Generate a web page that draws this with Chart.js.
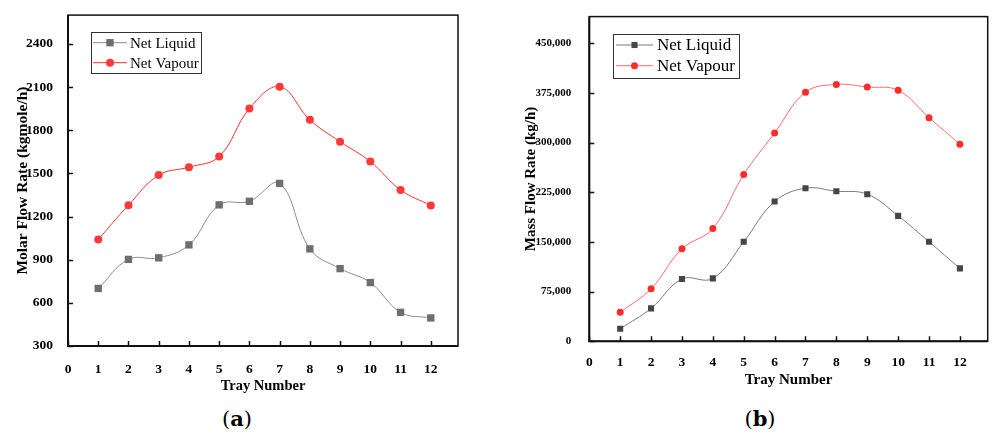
<!DOCTYPE html>
<html>
<head>
<meta charset="utf-8">
<script src="https://cdn.jsdelivr.net/npm/chart.js@4.4.0/dist/chart.umd.min.js"></script>
<style>
html, body { margin:0; padding:0; background:#fff; }
body { width:992px; height:434px; position:relative; overflow:hidden; }
.box { position:absolute; top:0; height:400px; }
#boxA { left:0; width:470px; }
#boxB { left:496px; width:496px; }
.cap { position:absolute; top:405px; width:100px; text-align:center; line-height:28px;
       font-family:"DejaVu Serif", serif; font-size:21px; color:#000; }
.cap b { font-weight:bold; }
</style>
</head>
<body>
<div class="box" id="boxA"><canvas id="chartA" width="470" height="400"></canvas></div>
<div class="box" id="boxB"><canvas id="chartB" width="496" height="400"></canvas></div>
<div class="cap" style="left:187px">(<b>a</b>)</div>
<div class="cap" style="left:710px">(<b>b</b>)</div>

<script>
// data
const trays = [1, 2, 3, 4, 5, 6, 7, 8, 9, 10, 11, 12];
const molarLiquid = [700, 902, 913, 1003, 1281, 1306, 1430, 975, 838, 741, 534, 495];
const molarVapour = [1040, 1279, 1488, 1543, 1617, 1950, 2102, 1872, 1720, 1582, 1385, 1277];
const massLiquid = [19000, 49700, 93900, 94900, 150200, 210900, 231000, 226500, 222000, 189300, 150200, 110000];
const massVapour = [43700, 79300, 139600, 170200, 251600, 314400, 375700, 387700, 383700, 378700, 337500, 297300];
const trayTicks = [0, 1, 2, 3, 4, 5, 6, 7, 8, 9, 10, 11, 12];
const molarTicks = [300, 600, 900, 1200, 1500, 1800, 2100, 2400];
const massTicks = [0, 75000, 150000, 225000, 300000, 375000, 450000];

const SERIF = "'Liberation Serif', 'Times New Roman', serif";
const pts = arr => trays.map((t, i) => ({ x: t, y: arr[i] }));

// box round the plot + short ticks pointing inwards
const framePlugin = {
  id: "frame",
  afterDraw(chart, args, o) {
    const { ctx, chartArea: a, scales } = chart;
    ctx.save();
    ctx.strokeStyle = "#111";
    ctx.lineWidth = 1.5;
    ctx.strokeRect(a.left, a.top, a.right - a.left, a.bottom - a.top);
    ctx.lineWidth = 2;
    ctx.beginPath();
    ctx.moveTo(a.left, a.top); ctx.lineTo(a.left, a.bottom); ctx.lineTo(a.right, a.bottom);
    ctx.stroke();
    ctx.lineWidth = 1.5;
    ctx.beginPath();
    scales.y.ticks.forEach(t => {
      const p = Math.round(scales.y.getPixelForValue(t.value)) + 0.5;
      ctx.moveTo(a.left, p); ctx.lineTo(a.left + 5, p);
    });
    scales.x.ticks.forEach(t => {
      const p = Math.round(scales.x.getPixelForValue(t.value)) + 0.5;
      ctx.moveTo(p, a.bottom); ctx.lineTo(p, a.bottom - 5);
    });
    ctx.stroke();
    ctx.restore();
  }
};

// legend with line + marker, in a framed box
const legendPlugin = {
  id: "boxLegend",
  afterDraw(chart, args, o) {
    const ctx = chart.ctx;
    ctx.save();
    ctx.fillStyle = "#fff";
    ctx.fillRect(o.x, o.y, o.w, o.h);
    ctx.strokeStyle = "#333";
    ctx.lineWidth = 1;
    ctx.strokeRect(o.x + 0.5, o.y + 0.5, o.w, o.h);
    ctx.font = o.font;
    ctx.textBaseline = "middle";
    chart.data.datasets.forEach((ds, i) => {
      const cy = o.y + o.first + i * o.row;
      ctx.strokeStyle = ds.borderColor;
      ctx.lineWidth = ds.borderWidth;
      ctx.beginPath();
      ctx.moveTo(o.x + o.lx0, cy); ctx.lineTo(o.x + o.lx1, cy);
      ctx.stroke();
      const mx = o.x + (o.lx0 + o.lx1) / 2;
      ctx.fillStyle = ds.pointBackgroundColor;
      if (ds.pointStyle === "rect") {
        const s = ds.pointRadius * Math.SQRT1_2;
        ctx.fillRect(mx - s, cy - s, 2 * s, 2 * s);
      } else {
        ctx.beginPath(); ctx.arc(mx, cy, ds.pointRadius, 0, Math.PI * 2); ctx.fill();
      }
      ctx.fillStyle = "#000";
      ctx.fillText(ds.label, o.x + o.tx, cy + 1);
    });
    ctx.restore();
  }
};

function makeChart(id, cfg) {
  return new Chart(document.getElementById(id), {
    type: "line",
    data: {
      datasets: [
        { label: "Net Liquid", data: pts(cfg.liquid), borderColor: cfg.liqLine, borderWidth: 1,
          pointStyle: "rect", pointRadius: cfg.sqR, pointBackgroundColor: cfg.liqPt,
          pointBorderWidth: 0, tension: 0.4 },
        { label: "Net Vapour", data: pts(cfg.vapour), borderColor: cfg.vapLine, borderWidth: 1,
          pointStyle: "circle", pointRadius: cfg.ciR, pointBackgroundColor: cfg.vapPt,
          pointBorderWidth: 0, tension: 0.4 }
      ]
    },
    options: {
      responsive: false,
      animation: false,
      devicePixelRatio: 1,
      layout: { padding: cfg.pad },
      plugins: { legend: { display: false }, tooltip: { enabled: false }, boxLegend: cfg.legend },
      scales: {
        x: {
          type: "linear", min: 0, max: 12.9,
          grid: { display: false }, border: { display: false },
          afterBuildTicks: s => { s.ticks = trayTicks.map(v => ({ value: v })); },
          afterFit: s => { s.height = cfg.xh; },
          ticks: { color: "#000", padding: cfg.xPad, maxRotation: 0, autoSkip: false,
                   font: { family: SERIF, size: 13.5, weight: "bold" } },
          title: { display: true, text: "Tray Number", color: "#000",
                   padding: { top: 0, bottom: cfg.xtPad },
                   font: { family: SERIF, size: cfg.xtSize, weight: "bold" } }
        },
        y: {
          min: cfg.yMin, max: cfg.yMax,
          grid: { display: false }, border: { display: false },
          afterBuildTicks: s => { s.ticks = cfg.yTicks.map(v => ({ value: v })); },
          afterFit: s => { s.width = cfg.yw; },
          ticks: { color: "#000", padding: cfg.yPad, autoSkip: false,
                   callback: v => cfg.fmt(v),
                   font: { family: SERIF, size: cfg.ySize, weight: "bold" } },
          title: { display: true, text: cfg.yTitle, color: "#000",
                   padding: { top: cfg.ytPad, bottom: 0 },
                   font: { family: SERIF, size: cfg.ytSize, weight: "bold" } }
        }
      }
    },
    plugins: [framePlugin, legendPlugin]
  });
}

makeChart("chartA", {
  liquid: molarLiquid, vapour: molarVapour,
  liqLine: "#8c8c8c", liqPt: "#6e6e6e", vapLine: "#ff3030", vapPt: "#ff3838",
  sqR: 5.2, ciR: 4,
  pad: { top: 12, right: 12, left: 0, bottom: 0 },
  xh: 54, yw: 68, xPad: 7, yPad: 7, xtPad: 5, xtSize: 14.5, ytPad: 14, ySize: 13.5, ytSize: 15.5,
  yMin: 300, yMax: 2600, yTicks: molarTicks, fmt: v => String(v),
  yTitle: "Molar Flow Rate (kgmole/h)",
  legend: { x: 91, y: 32, w: 110, h: 41, first: 10.7, row: 20, lx0: 2, lx1: 36, tx: 39,
            font: "15px " + SERIF }
});

makeChart("chartB", {
  liquid: massLiquid, vapour: massVapour,
  liqLine: "#7a7a7a", liqPt: "#454545", vapLine: "#ff6a6a", vapPt: "#ff2a2a",
  sqR: 4.3, ciR: 3.5,
  pad: { top: 16, right: 1, left: 0, bottom: 0 },
  xh: 58.7, yw: 93.3, xPad: 5, yPad: 10, xtPad: 11, xtSize: 15, ytPad: 26, ySize: 11, ytSize: 15,
  yMin: 0, yMax: 490000, yTicks: massTicks, fmt: v => v.toLocaleString("en-US"),
  yTitle: "Mass Flow Rate (kg/h)",
  legend: { x: 117, y: 34, w: 126, h: 44, first: 11, row: 20.7, lx0: 3, lx1: 40, tx: 44,
            font: "17px " + SERIF }
});
</script>
</body>
</html>
